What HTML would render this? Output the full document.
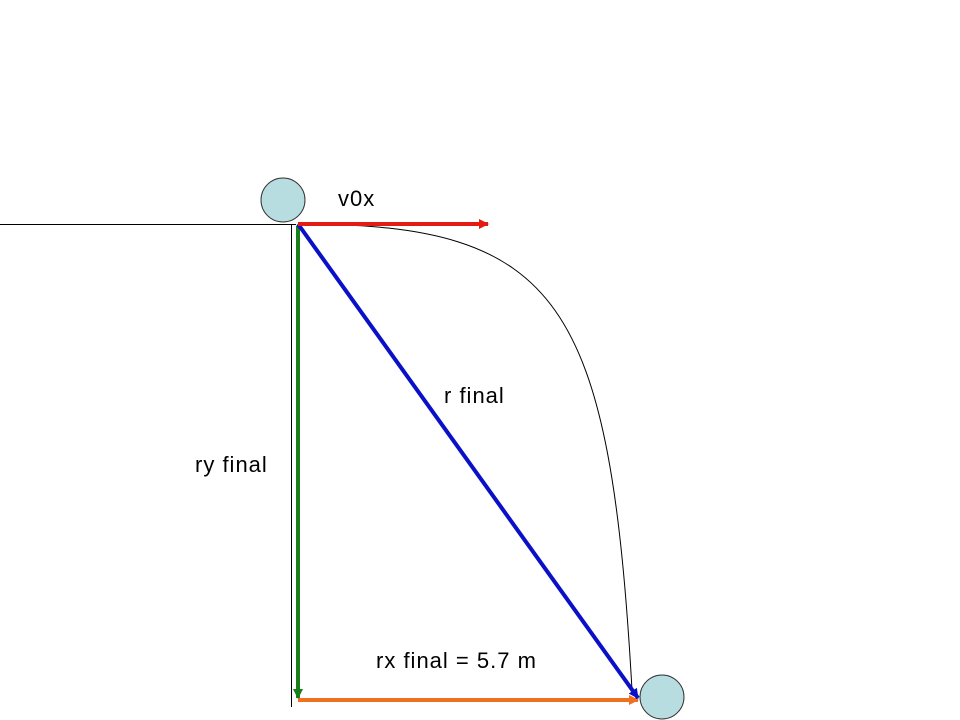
<!DOCTYPE html>
<html><head><style>body{margin:0;background:#fff}</style></head><body>
<svg width="960" height="720" xmlns="http://www.w3.org/2000/svg" style="display:block">
<defs>
<marker id="r" markerWidth="10" markerHeight="10" refX="9" refY="5" orient="auto" markerUnits="userSpaceOnUse"><path d="M0,0L10,5L0,10z" fill="#e31b10"/></marker>
<marker id="g" markerWidth="10" markerHeight="10" refX="9" refY="5" orient="auto" markerUnits="userSpaceOnUse"><path d="M0,0L10,5L0,10z" fill="#1a7f1a"/></marker>
<marker id="o" markerWidth="10" markerHeight="10" refX="9" refY="5" orient="auto" markerUnits="userSpaceOnUse"><path d="M0,0L10,5L0,10z" fill="#f07020"/></marker>
<marker id="b" markerWidth="10" markerHeight="10" refX="9" refY="5" orient="auto" markerUnits="userSpaceOnUse"><path d="M0,0L10,5L0,10z" fill="#0a10c8"/></marker>
</defs>
<line x1="0" y1="224.5" x2="296" y2="224.5" stroke="#000" stroke-width="1"/>
<line x1="291.5" y1="224" x2="291.5" y2="707" stroke="#000" stroke-width="1"/>
<path d="M300,224 C560,224 610,300 632,690" fill="none" stroke="#000" stroke-width="1"/>
<circle cx="283" cy="200" r="22" fill="#b7dde1" stroke="#333" stroke-width="1"/>
<circle cx="662" cy="697" r="22" fill="#b7dde1" stroke="#333" stroke-width="1"/>
<line x1="298" y1="226" x2="298" y2="698" stroke="#1a7f1a" stroke-width="4" marker-end="url(#g)"/>
<line x1="298" y1="700" x2="638" y2="700" stroke="#f07020" stroke-width="4" marker-end="url(#o)"/>
<line x1="298" y1="224" x2="638" y2="698" stroke="#0a10c8" stroke-width="4" marker-end="url(#b)"/>
<line x1="298" y1="224" x2="488" y2="224" stroke="#e31b10" stroke-width="4" marker-end="url(#r)"/>
<g font-family="Liberation Sans, sans-serif" font-size="22" letter-spacing="1" fill="#000">
<text x="338" y="206">v0x</text>
<text x="444" y="403">r final</text>
<text x="195" y="472">ry final</text>
<text x="376" y="668">rx final = 5.7 m</text>
</g>
</svg>
</body></html>
